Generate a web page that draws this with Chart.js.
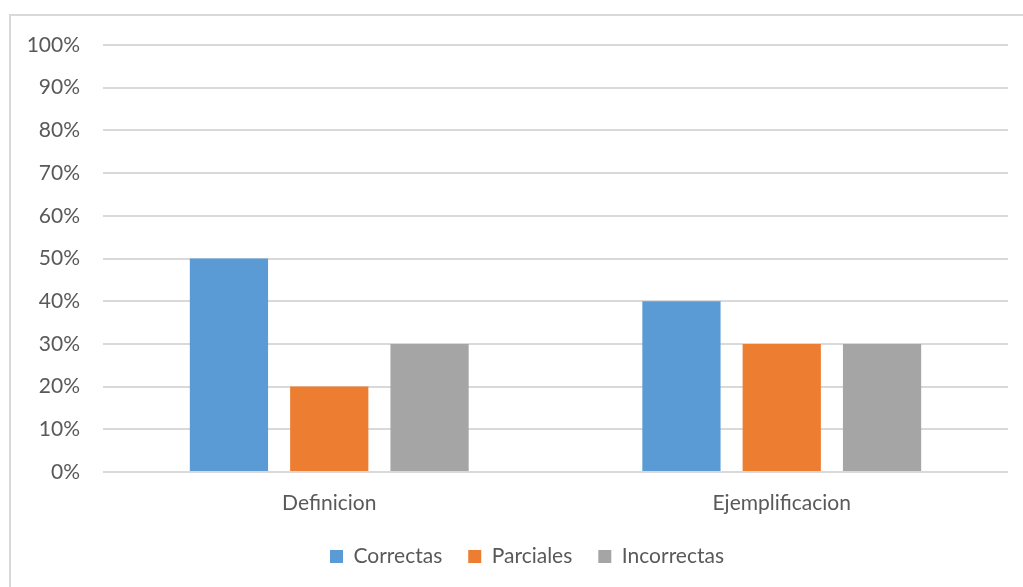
<!DOCTYPE html>
<html>
<head>
<meta charset="utf-8">
<script src="https://cdn.jsdelivr.net/npm/chart.js@4"></script>
<style>
  html, body { margin: 0; padding: 0; background: #fff; }
  #wrap { position: relative; width: 1023px; height: 587px; overflow: hidden; }
  #frame { position: absolute; left: 9px; top: 14px; width: 1030px; height: 600px;
           border: 2px solid #d9d9d9; box-sizing: border-box; }
  #c { position: absolute; left: 0; top: 0; }
</style>
</head>
<body>
<div id="wrap">
  <div id="frame"></div>
  <canvas id="c" width="1023" height="587"></canvas>
</div>
<script>
var categories = ['Definicion', 'Ejemplificacion'];
var correctas = [50, 40];
var parciales = [20, 30];
var incorrectas = [30, 30];
var yTicks = [0, 10, 20, 30, 40, 50, 60, 70, 80, 90, 100];

(function () {
    var textColor = '#595959';
    var fontFamily = 'Lato, "Open Sans", sans-serif';
    var ctx = document.getElementById('c').getContext('2d');

    function series(label, data, color) {
        return {
            label: label,
            data: data,
            backgroundColor: color,
            borderWidth: 0,
            categoryPercentage: 0.665,
            barPercentage: 0.78
        };
    }

    // nudge the legend row a little to the right of the canvas centre
    var legendShift = {
        id: 'legendShift',
        afterLayout: function (chart) {
            if (chart.legend) {
                chart.legend.left += 46;
                chart.legend.adjustHitBoxes && chart.legend.adjustHitBoxes();
            }
        }
    };

    window.chart = new Chart(ctx, {
        type: 'bar',
        data: {
            labels: categories,
            datasets: [
                series('Correctas', correctas, '#5b9bd5'),
                series('Parciales', parciales, '#ed7d31'),
                series('Incorrectas', incorrectas, '#a5a5a5')
            ]
        },
        options: {
            responsive: false,
            animation: false,
            layout: { padding: { top: 45, right: 15, bottom: 10, left: 0 } },
            scales: {
                x: {
                    grid: { display: false },
                    border: { display: false },
                    ticks: { color: textColor, font: { family: fontFamily, size: 21 }, padding: 11 },
                    afterFit: function (scale) { scale.height = 48; }
                },
                y: {
                    min: 0,
                    max: 100,
                    afterBuildTicks: function (scale) {
                        scale.ticks = yTicks.map(function (v) { return { value: v }; });
                    },
                    grid: { color: '#d9d9d9', lineWidth: 2, drawTicks: false },
                    border: { display: false },
                    ticks: {
                        color: textColor,
                        font: { family: fontFamily, size: 21 },
                        padding: 23,
                        callback: function (v) { return v + '%'; }
                    },
                    afterFit: function (scale) { scale.width = 103; }
                }
            },
            plugins: {
                legend: {
                    position: 'bottom',
                    labels: {
                        color: textColor,
                        font: { family: fontFamily, size: 21 },
                        boxWidth: 13,
                        boxHeight: 13,
                        padding: 26
                    }
                },
                tooltip: { enabled: false }
            }
        },
        plugins: [legendShift]
    });
})();
</script>
</body>
</html>
